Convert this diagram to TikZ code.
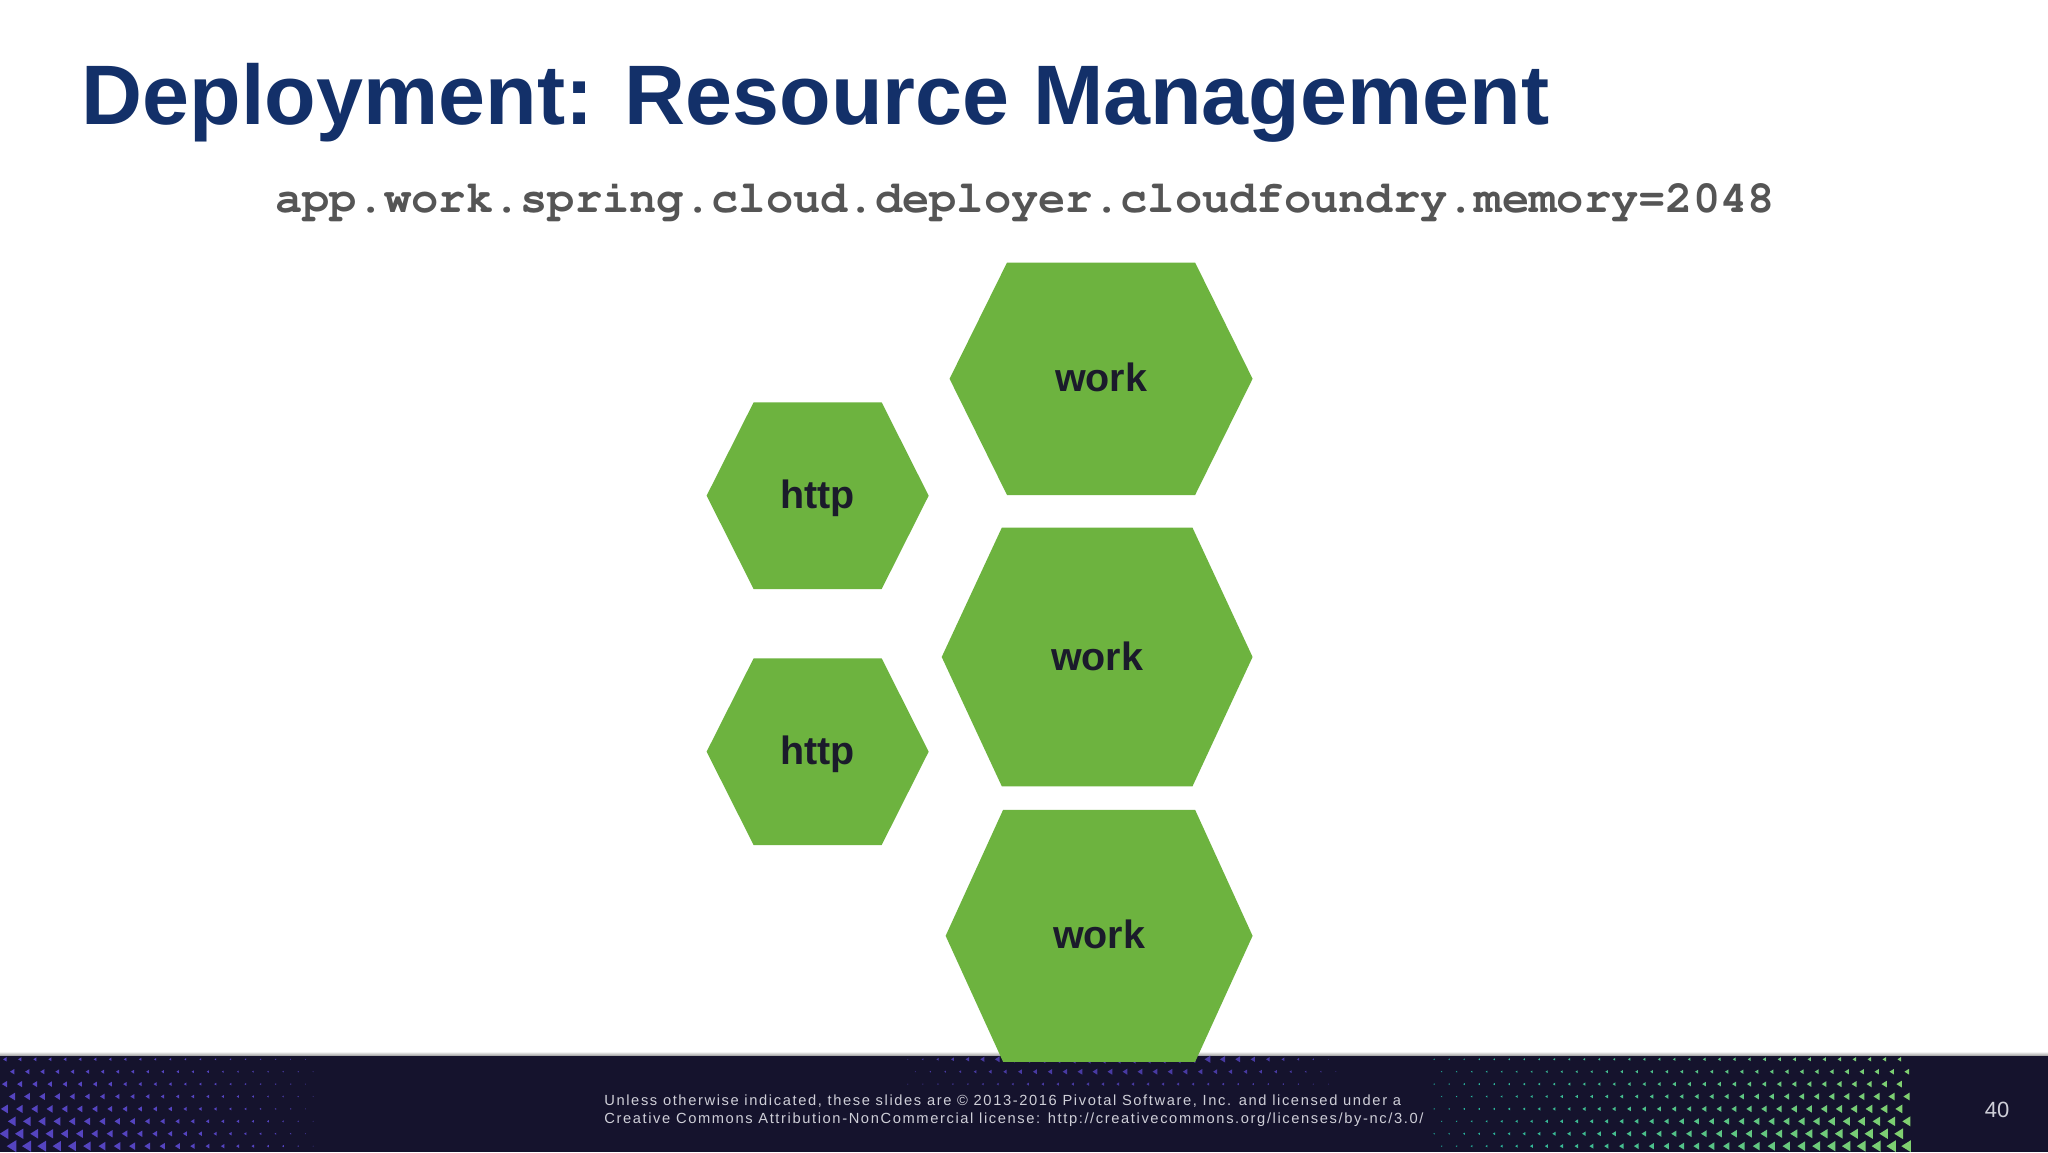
\documentclass[tikz,border=0pt]{standalone}
\usepackage[T1]{fontenc}
\usepackage{fontspec}
\setmainfont{Liberation Sans}
\newfontfamily\fontepiede[LetterSpace=11]{Liberation Sans}
\usetikzlibrary{calc}
\usepackage{xcolor}

\definecolor{verdespring}{HTML}{6DB33F}
\definecolor{blutitolo}{HTML}{133069}
\definecolor{grigiocodice}{HTML}{555555}
\definecolor{fondopiede}{HTML}{15132D}
\definecolor{testopiede}{HTML}{CFCFD8}
\definecolor{inchiostro}{HTML}{1B1B2B}
\definecolor{violatri}{HTML}{5544C0}
\definecolor{tealtri}{HTML}{22B3A2}
\definecolor{verdetri}{HTML}{80D070}

% esagono con etichetta: nome, cx, cy, semilarghezza, semialtezza, rientro, testo
\newcommand{\esagono}[7]{%
  \fill[verdespring] ({#2-#4},#3) -- ({#2-#4+#6},{#3+#5}) -- ({#2+#4-#6},{#3+#5})
    -- ({#2+#4},#3) -- ({#2+#4-#6},{#3-#5}) -- ({#2-#4+#6},{#3-#5}) -- cycle;
  \node[etichetta, anchor=base] (#1) at (#2,{#3-0.10}) {#7};
}

\begin{document}
\begin{tikzpicture}[
  titolo/.style={font=\fontsize{18.4}{22}\selectfont\bfseries, text=blutitolo, inner sep=0pt},
  codice/.style={font=\fontencoding{T1}\fontfamily{pcr}\fontseries{b}\fontsize{9.9}{12}\selectfont,
                 text=grigiocodice, inner sep=0pt},
  etichetta/.style={font=\fontsize{8.6}{10}\selectfont\bfseries, text=inchiostro, inner sep=0pt},
  piede/.style={font=\fontepiede\fontsize{3.2}{4}\selectfont, text=testopiede, inner sep=0pt},
  numeropagina/.style={font=\fontsize{4.8}{5}\selectfont, text=testopiede, inner sep=0pt},
  triangolo/.style={line width=0pt}
]

% Cornice fissata sulle proporzioni della slide (1568 x 882 -> cm/100)
\useasboundingbox (0,0) rectangle (15.68,8.82);
\fill[white] (0,0) rectangle (15.68,8.82);

% ---- fascia di pie' di pagina -------------------------------------
\fill[fondopiede] (0,0) rectangle (15.68,0.74);
\shade[top color=white, bottom color=black!35] (0,0.74) rectangle (15.68,0.77);

% motivo a triangoli, lato sinistro (viola)
\foreach \i in {0,...,20}{
  \foreach \j in {0,...,7}{
    \pgfmathsetmacro{\tx}{0.04+\i*0.115+mod(\j,2)*0.0575}
    \pgfmathsetmacro{\ty}{0.71-\j*0.095}
    \pgfmathsetmacro{\lato}{0.004+0.042*(1-\i/20)*(0.3+0.7*\j/7)}
    \fill[violatri, triangolo] (\tx,\ty) ++(-\lato,0) -- ++(1.6*\lato,\lato) -- ++(0,-2*\lato) -- cycle;
  }
}

% motivo a triangoli, centro (viola, tenue)
\foreach \i in {0,...,28}{
  \foreach \j in {0,1,2}{
    \pgfmathsetmacro{\tx}{6.95+\i*0.115+mod(\j,2)*0.0575}
    \pgfmathsetmacro{\ty}{0.71-\j*0.095}
    \pgfmathsetmacro{\lato}{0.004+0.03*sin(180*\i/28)*(1-0.35*\j)}
    \fill[violatri!80!fondopiede, triangolo] (\tx,\ty) ++(-\lato,0) -- ++(1.6*\lato,\lato) -- ++(0,-2*\lato) -- cycle;
  }
}

% motivo a triangoli, lato destro (dal turchese al verde)
\foreach \i in {0,...,31}{
  \foreach \j in {0,...,7}{
    \pgfmathsetmacro{\tx}{10.98+\i*0.115+mod(\j,2)*0.0575}
    \pgfmathsetmacro{\ty}{0.71-\j*0.095}
    \pgfmathsetmacro{\lato}{0.006+0.040*(\i/31)*(0.3+0.7*\j/7)}
    \pgfmathtruncatemacro{\mix}{100*\i/31}
    \fill[verdetri!\mix!tealtri, triangolo] (\tx,\ty) ++(-\lato,0) -- ++(1.6*\lato,\lato) -- ++(0,-2*\lato) -- cycle;
  }
}

\node[piede, anchor=base west] (licenza1) at (4.62,0.355)
  {Unless otherwise indicated, these slides are © 2013-2016 Pivotal Software, Inc. and licensed under a};
\node[piede, anchor=base west] (licenza2) at (4.62,0.215)
  {Creative Commons Attribution-NonCommercial license: http://creativecommons.org/licenses/by-nc/3.0/};
\node[numeropagina] (pagina) at (15.29,0.32) {40};

% ---- esagoni -------------------------------------------------------
\esagono{work1}{8.43}{5.92}{1.16}{0.89}{0.44}{work}
\esagono{http1}{6.26}{5.025}{0.85}{0.715}{0.36}{http}
\esagono{work2}{8.40}{3.79}{1.19}{0.99}{0.46}{work}
\esagono{http2}{6.26}{3.065}{0.85}{0.715}{0.36}{http}
\esagono{work3}{8.415}{1.655}{1.175}{0.965}{0.44}{work}

% ---- titolo e proprieta' -------------------------------------------
\node[titolo, anchor=base west] (titolo) at (0.62,7.87) {Deployment: Resource Management};
\node[codice, anchor=base west] (proprieta) at (2.10,7.19)
  {app.work.spring.cloud.deployer.cloudfoundry.memory=2048};

\end{tikzpicture}
\end{document}
